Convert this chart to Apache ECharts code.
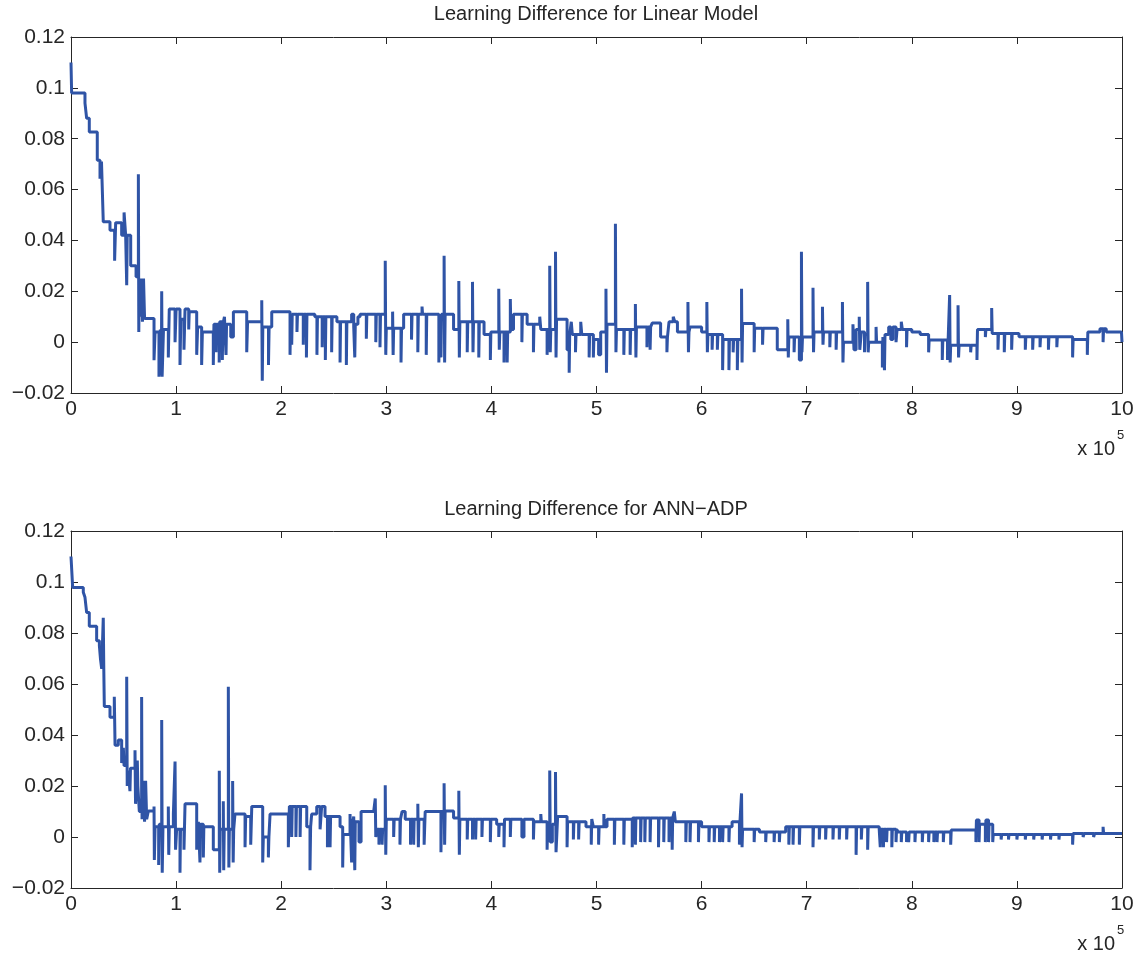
<!DOCTYPE html>
<html>
<head>
<meta charset="utf-8">
<script src="https://cdn.jsdelivr.net/npm/echarts@6/dist/echarts.min.js"></script>
<style>
  html, body { margin: 0; padding: 0; background: #fff; }
  #main { width: 1147px; height: 957px; }
</style>
</head>
<body>
<div id="main"></div>
<script>
// x in units of 1e5 iterations, y = learning difference; each point = value from that x on
const linearPts = [
  [0,0.110],[0.006,0.098],[0.133,0.094],[0.149,0.088],[0.174,0.0826],[0.25,0.0715],[0.276,0.0643],[0.29,0.071],[0.307,0.0473],
  [0.371,0.044],[0.415,0.032],[0.425,0.047],[0.482,0.042],[0.505,0.051],[0.52,0.042],[0.53,0.0224],[0.535,0.042],[0.568,0.030],
  [0.619,0.0257],[0.641,0.066],[0.645,0.004],[0.65,0.025],[0.66,0.010],[0.67,0.025],[0.68,0.008],[0.69,0.025],[0.70,0.0093],
  [0.79,-0.0071],[0.80,0.004],[0.837,-0.0136],[0.85,0.005],[0.86,-0.013],[0.863,0.020],[0.867,-0.0136],[0.88,0.005],[0.926,-0.006],
  [0.935,0.013],[0.99,0.0],[1.0,0.013],[1.037,-0.009],[1.045,0.009],[1.075,-0.003],[1.085,0.013],[1.12,0.005],[1.125,0.012],
  [1.196,-0.005],[1.205,0.006],[1.243,-0.009],[1.25,0.004],[1.30,0.004],[1.354,-0.009],[1.36,0.007],[1.38,-0.004],[1.385,0.007],
  [1.41,-0.008],[1.415,0.008],[1.44,-0.007],[1.445,0.007],[1.46,0.010],
  [1.475,-0.005],[1.48,0.007],[1.52,0.002],[1.545,0.012],[1.672,-0.004],[1.68,0.008],[1.815,0.0165],[1.82,-0.0152],[1.825,0.006],
  [1.879,-0.009],[1.885,0.006],[1.91,0.012],[2.084,-0.005],[2.09,0.011],[2.10,-0.001],[2.105,0.011],[2.15,0.004],[2.155,0.011],
  [2.21,-0.001],[2.215,0.011],
  [2.24,-0.006],[2.245,0.011],[2.32,0.010],[2.34,-0.005],[2.345,0.010],[2.39,-0.002],[2.395,0.010],[2.42,-0.007],[2.425,0.010],
  [2.48,-0.004],[2.485,0.010],[2.53,0.008],[2.56,-0.008],[2.565,0.008],[2.62,-0.009],[2.625,0.008],[2.67,0.011],[2.69,0.006],
  [2.70,-0.006],[2.705,0.007],[2.73,0.010],[2.75,0.011],[2.81,0.0013],[2.815,0.011],[2.90,0.0],[2.905,0.011],[2.94,-0.002],
  [2.945,0.011],[2.99,0.032],[2.995,-0.005],[3.0,0.0055],[3.06,0.012],[3.065,-0.005],[3.07,0.0055],[3.14,-0.008],[3.145,0.0055],
  [3.165,0.011],[3.24,0.001],[3.245,0.011],[3.30,-0.004],[3.305,0.011],[3.34,0.014],[3.345,0.011],[3.38,-0.005],[3.385,0.011],
  [3.50,-0.008],[3.505,0.011],[3.52,-0.006],[3.525,0.011],[3.55,0.034],[3.555,-0.008],[3.56,0.011],[3.64,0.005],[3.69,0.024],
  [3.695,-0.006],[3.70,0.008],[3.77,-0.004],[3.775,0.008],[3.82,0.0237],[3.825,-0.004],[3.83,0.008],[3.88,-0.006],[3.885,0.008],
  [3.93,0.003],[3.99,-0.007],[3.995,0.004],[4.07,0.021],[4.075,-0.003],[4.08,0.004],[4.12,-0.008],[4.125,0.004],[4.15,-0.008],
  [4.155,0.004],[4.18,0.017],[4.185,0.005],[4.21,0.011],[4.29,0.0],[4.295,0.011],[4.34,0.007],[4.40,-0.004],[4.405,0.007],
  [4.46,0.010],[4.47,0.005],[4.53,-0.005],[4.535,0.005],[4.555,0.030],[4.56,-0.004],[4.565,0.005],[4.61,0.0355],[4.615,-0.006],
  [4.62,0.009],[4.72,-0.003],[4.74,-0.012],[4.745,0.003],[4.76,0.008],[4.77,0.003],[4.80,-0.004],[4.805,0.003],[4.85,0.008],
  [4.86,0.003],[4.93,-0.006],[4.935,0.003],[4.97,-0.006],[4.975,0.001],[5.02,-0.005],[5.04,0.004],[5.09,0.021],[5.095,-0.012],
  [5.10,0.007],[5.18,0.0466],[5.185,-0.004],[5.19,0.005],[5.26,-0.005],[5.265,0.005],[5.32,-0.005],[5.325,0.005],[5.37,0.015],
  [5.375,-0.006],[5.38,0.006],[5.48,-0.002],[5.485,0.006],[5.51,-0.003],[5.515,0.006],[5.53,0.0075],[5.61,0.002],[5.67,-0.004],
  [5.675,0.002],[5.69,0.008],[5.73,0.010],[5.745,0.008],[5.77,0.004],[5.87,0.0158],[5.875,-0.004],[5.88,0.004],[5.89,0.006],
  [6.0,0.004],[6.05,0.0158],[6.055,-0.004],[6.06,0.003],[6.10,-0.003],[6.105,0.003],[6.15,-0.003],[6.155,0.003],[6.20,-0.011],
  [6.205,0.001],[6.26,-0.011],[6.265,0.001],[6.30,-0.004],[6.305,0.001],[6.34,-0.011],[6.345,0.001],[6.38,0.021],[6.385,-0.008],
  [6.39,0.0073],[6.50,-0.004],[6.505,0.0055],[6.58,-0.001],[6.585,0.0055],[6.72,-0.003],[6.82,0.009],[6.825,-0.006],[6.83,0.002],
  [6.88,-0.004],[6.885,0.002],[6.93,-0.007],[6.95,0.0355],[6.955,-0.004],[6.96,0.002],[7.06,0.0214],[7.065,-0.004],[7.07,0.004],
  [7.15,0.0139],[7.155,-0.001],[7.16,0.004],[7.22,-0.002],[7.225,0.004],[7.28,-0.003],[7.285,0.004],[7.34,0.0158],[7.345,-0.008],
  [7.35,0.0],[7.44,0.007],[7.45,-0.003],[7.47,0.005],[7.50,0.010],[7.505,-0.003],[7.52,0.004],[7.55,-0.004],[7.555,0.003],
  [7.58,0.0237],[7.585,-0.004],[7.59,0.0],[7.66,0.006],[7.665,0.0],[7.72,-0.010],[7.725,0.002],[7.74,-0.011],[7.745,0.003],
  [7.78,0.006],[7.80,0.001],[7.82,0.006],[7.85,0.0],[7.86,0.005],[7.90,0.008],[7.91,0.005],[7.95,-0.002],[7.955,0.005],
  [8.0,0.004],[8.08,0.003],[8.16,-0.004],[8.165,0.0008],[8.29,-0.007],[8.295,0.0008],[8.34,-0.007],[8.345,0.0],[8.36,0.0185],
  [8.365,-0.008],[8.37,-0.0012],[8.44,0.0145],[8.445,-0.006],[8.45,-0.0012],[8.56,-0.004],[8.565,-0.0012],[8.62,-0.007],
  [8.625,0.005],[8.70,0.002],[8.705,0.005],[8.76,0.0134],[8.765,0.0034],[8.82,-0.003],[8.825,0.0034],[8.88,-0.004],[8.885,0.0034],
  [8.95,-0.003],[8.955,0.0034],[9.02,0.0021],[9.08,-0.003],[9.085,0.0021],[9.15,-0.003],[9.155,0.0021],[9.22,-0.002],[9.225,0.0021],
  [9.30,-0.003],[9.305,0.0021],[9.38,-0.002],[9.385,0.0021],[9.53,-0.006],[9.535,0.001],[9.67,-0.005],[9.675,0.004],[9.79,0.0053],
  [9.82,0.0],[9.825,0.0053],[9.85,0.004],[9.995,0.004],[10,0.0]
];

const annPts = [
  [0,0.110],[0.016,0.0978],[0.117,0.096],[0.133,0.094],[0.149,0.088],[0.174,0.0826],[0.244,0.077],[0.27,0.075],[0.28,0.070],
  [0.292,0.066],[0.307,0.086],[0.312,0.066],[0.317,0.0512],[0.371,0.047],[0.412,0.055],[0.419,0.036],[0.45,0.038],[0.482,0.029],
  [0.498,0.035],[0.505,0.028],[0.53,0.0628],[0.535,0.020],[0.545,0.026],[0.561,0.018],[0.566,0.027],[0.609,0.034],[0.614,0.013],
  [0.631,0.030],[0.636,0.020],[0.65,0.010],[0.672,0.0549],[0.676,0.007],[0.688,0.022],[0.70,0.006],[0.71,0.022],[0.72,0.007],
  [0.736,0.0102],[0.79,0.012],[0.793,-0.009],[0.80,0.004],[0.834,-0.011],[0.84,0.005],[0.863,0.0459],[0.868,-0.014],[0.875,0.004],
  [0.926,0.012],[0.93,-0.007],[0.935,0.004],[0.974,0.009],[0.99,0.0296],[0.995,-0.005],[1.005,0.003],[1.037,-0.014],[1.042,0.003],
  [1.075,-0.005],[1.085,0.013],[1.196,-0.005],[1.212,0.006],[1.227,-0.010],[1.232,0.005],[1.259,-0.008],[1.264,0.004],
  [1.354,-0.005],[1.411,0.026],[1.415,-0.014],[1.42,0.003],[1.449,0.014],[1.453,-0.013],[1.458,0.003],[1.497,0.0589],
  [1.502,-0.012],[1.507,0.003],[1.538,0.022],[1.543,-0.010],[1.548,0.003],[1.56,0.009],[1.656,-0.004],[1.662,0.008],
  [1.71,-0.003],[1.72,0.012],[1.824,-0.010],[1.83,0.0],[1.878,-0.008],[1.883,0.0],[1.894,0.009],[2.068,-0.004],[2.078,0.012],
  [2.10,0.0],[2.105,0.012],[2.14,0.0],[2.145,0.012],[2.18,0.0],[2.185,0.012],[2.243,0.004],[2.274,-0.013],[2.28,0.004],
  [2.29,0.009],[2.338,0.012],[2.37,0.003],[2.385,0.012],[2.417,0.008],[2.44,-0.004],[2.445,0.008],[2.465,-0.004],[2.47,0.008],
  [2.56,0.004],[2.585,-0.012],[2.59,0.001],[2.607,0.001],[2.655,0.009],[2.67,-0.010],[2.675,0.004],[2.69,0.008],[2.70,-0.013],
  [2.705,0.006],[2.72,0.006],[2.74,-0.002],[2.76,0.010],[2.88,0.010],[2.895,0.0151],[2.90,0.0],[2.91,0.003],[2.93,-0.003],
  [2.935,0.003],[2.96,-0.003],[2.965,0.003],[2.99,0.0203],[2.995,-0.007],[3.0,0.007],[3.07,0.0],[3.075,0.007],[3.13,-0.003],
  [3.135,0.007],[3.15,0.010],[3.18,0.007],[3.23,-0.003],[3.235,0.007],[3.26,-0.003],[3.265,0.007],[3.30,0.013],[3.305,-0.004],
  [3.31,0.007],[3.36,-0.003],[3.37,0.010],[3.52,-0.006],[3.525,0.010],[3.55,0.0211],[3.555,-0.003],[3.56,0.0102],[3.64,0.0075],
  [3.69,0.0181],[3.695,-0.007],[3.70,0.007],[3.77,-0.001],[3.775,0.007],[3.82,-0.001],[3.825,0.007],[3.85,-0.001],[3.855,0.007],
  [3.91,0.0],[3.915,0.007],[3.99,-0.002],[3.995,0.007],[4.05,0.005],[4.07,0.0],[4.075,0.005],[4.12,-0.004],[4.125,0.007],
  [4.18,0.0],[4.185,0.007],[4.29,0.0],[4.31,0.007],[4.40,-0.001],[4.405,0.006],[4.47,0.009],[4.475,0.006],[4.53,-0.005],
  [4.535,0.005],[4.555,0.0261],[4.56,-0.002],[4.58,0.005],[4.61,0.0255],[4.615,-0.006],[4.63,0.008],[4.72,-0.004],[4.725,0.006],
  [4.78,-0.001],[4.785,0.006],[4.83,-0.001],[4.835,0.006],[4.90,0.004],[4.95,-0.003],[4.955,0.007],[4.97,0.004],[5.02,-0.003],
  [5.025,0.004],[5.07,0.009],[5.075,0.004],[5.10,0.007],[5.17,-0.003],[5.175,0.007],[5.26,-0.003],[5.265,0.007],[5.34,-0.004],
  [5.345,0.0075],[5.37,-0.003],[5.375,0.0075],[5.42,-0.002],[5.425,0.0075],[5.46,-0.002],[5.465,0.0075],[5.51,-0.002],
  [5.515,0.0075],[5.59,-0.004],[5.595,0.0075],[5.64,-0.002],[5.645,0.0075],[5.69,-0.002],[5.695,0.0075],[5.72,-0.005],
  [5.725,0.0075],[5.74,0.010],[5.75,0.006],[5.85,-0.002],[5.855,0.006],[5.89,-0.002],[5.895,0.006],[5.97,-0.002],[5.975,0.006],
  [6.0,0.004],[6.07,-0.002],[6.075,0.004],[6.12,-0.002],[6.125,0.004],[6.17,-0.002],[6.175,0.004],[6.20,-0.002],[6.205,0.004],
  [6.26,-0.002],[6.265,0.004],[6.29,0.006],[6.36,-0.003],[6.365,0.006],[6.38,0.0171],[6.385,-0.004],[6.39,0.003],[6.50,-0.002],
  [6.505,0.003],[6.55,0.002],[6.61,-0.002],[6.615,0.002],[6.69,-0.002],[6.695,0.002],[6.74,-0.002],[6.745,0.002],[6.80,0.004],
  [6.83,-0.003],[6.835,0.004],[6.87,-0.003],[6.875,0.004],[6.93,-0.003],[6.935,0.004],[7.06,-0.004],[7.065,0.004],[7.12,-0.001],
  [7.125,0.004],[7.18,-0.001],[7.185,0.004],[7.25,-0.001],[7.255,0.004],[7.31,-0.001],[7.315,0.004],[7.38,-0.001],[7.385,0.004],
  [7.47,-0.007],[7.475,0.004],[7.52,-0.001],[7.525,0.004],[7.58,-0.005],[7.585,0.004],[7.69,0.003],[7.70,-0.004],[7.705,0.003],
  [7.73,-0.004],[7.735,0.003],[7.76,-0.002],[7.765,0.003],[7.81,-0.004],[7.815,0.003],[7.85,-0.002],[7.855,0.003],[7.87,0.002],
  [7.90,-0.002],[7.905,0.002],[7.95,-0.002],[7.955,0.002],[7.97,-0.002],[7.975,0.002],[8.03,-0.002],[8.035,0.002],[8.10,-0.002],
  [8.105,0.002],[8.16,-0.002],[8.165,0.002],[8.21,-0.002],[8.215,0.002],[8.24,-0.002],[8.245,0.002],[8.30,-0.002],[8.305,0.002],
  [8.37,-0.003],[8.375,0.0027],[8.61,-0.002],[8.615,0.0067],[8.64,-0.002],[8.645,0.005],[8.70,-0.002],[8.705,0.0067],
  [8.73,-0.002],[8.735,0.005],[8.77,-0.002],[8.775,0.001],[8.85,-0.001],[8.855,0.001],[8.92,-0.001],[8.925,0.001],[9.0,-0.001],
  [9.005,0.001],[9.08,-0.001],[9.085,0.001],[9.16,-0.001],[9.165,0.001],[9.24,-0.001],[9.245,0.001],[9.32,-0.001],[9.325,0.001],
  [9.40,-0.001],[9.405,0.001],[9.53,-0.003],[9.535,0.0014],[9.63,0.0],[9.64,0.0014],[9.73,0.0],[9.74,0.0014],[9.82,0.004],
  [9.825,0.0014],[10,0.0014]
];

const plotTitles = ["Learning Difference for Linear Model", "Learning Difference for ANN\u2212ADP"];

const FONT = "'Liberation Sans', Arial, Helvetica, sans-serif";
const INK = "#262626";
const LINE = "#2f54a6";

function yFmt(v) {
  const s = String(parseFloat(v.toFixed(2)));
  return s.replace("-", "\u2212");
}

function xAxisPair(gridIndex) {
  const base = {
    gridIndex: gridIndex,
    type: "value",
    min: 0, max: 10, interval: 1,
    splitLine: { show: false },
    axisLine: { onZero: false, lineStyle: { color: INK, width: 1 } },
    axisTick: { inside: true, length: 7, lineStyle: { color: INK } },
  };
  return [
    Object.assign({}, base, {
      position: "bottom",
      axisLabel: { color: INK, fontSize: 21, fontFamily: FONT, margin: 6 },
    }),
    Object.assign({}, base, { position: "top", axisLabel: { show: false } }),
  ];
}

function yAxisPair(gridIndex) {
  const base = {
    gridIndex: gridIndex,
    type: "value",
    min: -0.02, max: 0.12, interval: 0.02,
    splitLine: { show: false },
    axisLine: { onZero: false, lineStyle: { color: INK, width: 1 } },
    axisTick: { inside: true, length: 7, lineStyle: { color: INK } },
  };
  return [
    Object.assign({}, base, {
      position: "left",
      axisLabel: { color: INK, fontSize: 21, fontFamily: FONT, margin: 6, formatter: yFmt },
    }),
    Object.assign({}, base, { position: "right", axisLabel: { show: false } }),
  ];
}

function textEl(text, x, y, size, align) {
  return {
    type: "text", x: x, y: y,
    style: { text: text, fill: INK, fontSize: size, fontFamily: FONT, align: align, verticalAlign: "middle" },
  };
}

const chart = echarts.init(document.getElementById("main"), null, { renderer: "canvas" });
const option = {
  animation: false,
  backgroundColor: "#fff",
  grid: [
    { left: 71, top: 37, width: 1051, height: 356 },
    { left: 71, top: 531, width: 1051, height: 357 },
  ],
  xAxis: xAxisPair(0).concat(xAxisPair(1)),
  yAxis: yAxisPair(0).concat(yAxisPair(1)),
  graphic: [
    textEl(plotTitles[0], 596, 14, 20, "center"),
    textEl(plotTitles[1], 596, 509, 20, "center"),
    textEl("x 10", 1115, 449, 20, "right"),
    textEl("5", 1117, 435, 13, "left"),
    textEl("x 10", 1115, 944, 20, "right"),
    textEl("5", 1117, 930, 13, "left"),
  ],
  series: [
    {
      type: "line", xAxisIndex: 0, yAxisIndex: 0, step: "end",
      showSymbol: false, data: linearPts,
      lineStyle: { color: LINE, width: 3 }, itemStyle: { color: LINE },
    },
    {
      type: "line", xAxisIndex: 2, yAxisIndex: 2, step: "end",
      showSymbol: false, data: annPts,
      lineStyle: { color: LINE, width: 3 }, itemStyle: { color: LINE },
    },
  ],
};
chart.setOption(option);
window.addEventListener("resize", () => {
  chart.resize();
});
</script>
</body>
</html>
